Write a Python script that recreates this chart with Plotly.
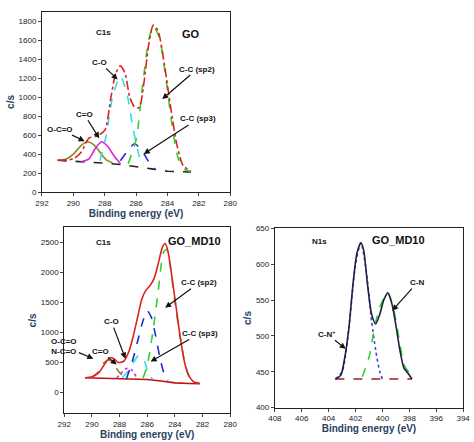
import plotly.graph_objects as go

W, H = 474, 442
# ---------- Panel 1: GO C1s ----------
go_bg_x = [291, 289, 288, 287, 286, 285, 284, 283, 282.5]
go_bg_y = [335, 320, 305, 290, 270, 245, 220, 212, 212]
go_ococ_x = [291, 290.5, 290, 289.5, 289.1, 288.7, 288.3, 287.9, 287.5]
go_ococ_y = [335, 345, 400, 490, 530, 500, 420, 340, 310]
go_co2_x = [289.5, 289, 288.6, 288.2, 287.8, 287.4, 287]
go_co2_y = [320, 350, 460, 530, 480, 380, 300]
go_co_x = [288.3, 287.9, 287.5, 287.0, 286.6, 286.2, 285.8, 285.5]
go_co_y = [330, 600, 1000, 1220, 1050, 680, 380, 280]
go_sp3_x = [287, 286.6, 286.1, 285.6, 285.2, 284.8]
go_sp3_y = [330, 420, 510, 430, 320, 240]
go_sp2_x = [286.5, 286, 285.6, 285.2, 284.9, 284.5, 284.1, 283.7, 283.3, 282.9, 282.5]
go_sp2_y = [300, 550, 1100, 1600, 1750, 1620, 1200, 700, 350, 240, 220]
go_env_x = [291, 290, 289.5, 289, 288.5, 288, 287.6, 287.3, 287, 286.7, 286.4, 286.1, 285.8,
            285.5, 285.2, 284.9, 284.6, 284.2, 283.8, 283.4, 283, 282.5]
go_env_y = [335, 350, 420, 570, 590, 650, 1000, 1250, 1330, 1250, 1000, 900, 890,
            1150, 1550, 1760, 1700, 1350, 900, 500, 280, 220]

# ---------- Panel 2: GO_MD10 C1s ----------
md_bg_x = [290.5, 288, 286, 285, 284, 283, 282.2]
md_bg_y = [245, 235, 215, 190, 160, 150, 145]
md_env_x = [290.5, 290, 289.5, 289, 288.7, 288.4, 288.1, 287.7, 287.3, 287, 286.7, 286.4, 286.1,
            285.8, 285.5, 285.2, 284.9, 284.7, 284.5, 284.2, 283.9, 283.6, 283.3, 283, 282.6, 282.2]
md_env_y = [245, 260, 330, 500, 580, 560, 500, 520, 700, 950, 1250, 1550, 1700,
            1780, 1900, 2150, 2420, 2480, 2350, 1900, 1400, 900, 500, 280, 170, 150]
md_sp2_x = [286.3, 286, 285.6, 285.2, 284.8, 284.6, 284.3, 284, 283.6, 283.2, 282.8, 282.2]
md_sp2_y = [240, 450, 1000, 1700, 2350, 2380, 2050, 1500, 900, 420, 200, 150]
md_sp3_x = [287.5, 287.1, 286.7, 286.3, 286.0, 285.7, 285.4, 285.1, 284.8, 284.5]
md_sp3_y = [230, 500, 850, 1200, 1360, 1250, 950, 600, 330, 200]
md_co_x = [287.8, 287.4, 287.0, 286.6, 286.2, 285.9, 285.6]
md_co_y = [250, 350, 500, 620, 520, 300, 220]
md_co2_x = [288.2, 287.9, 287.5, 287.1, 286.8]
md_co2_y = [240, 320, 400, 370, 260]
md_ococ_x = [290, 289.6, 289.2, 288.8, 288.4, 288, 287.6]
md_ococ_y = [250, 330, 480, 540, 460, 330, 250]

# ---------- Panel 3: GO_MD10 N1s ----------
n_bg_x = [403.5, 397.8]
n_bg_y = [440, 440]
n_env_x = [403.5, 403.1, 402.8, 402.5, 402.2, 401.9, 401.6, 401.4, 401.1, 400.8, 400.5, 400.2,
           399.9, 399.6, 399.3, 399, 398.7, 398.4, 398.1, 397.8]
n_env_y = [440, 445, 470, 510, 570, 615, 630, 620, 570, 530, 517, 530,
           550, 560, 545, 515, 480, 455, 448, 440]
n_cnp_x = [403.5, 403, 402.5, 402, 401.6, 401.2, 400.8, 400.5, 400.2, 400]
n_cnp_y = [440, 450, 510, 600, 630, 590, 520, 480, 450, 440]
n_cn_x = [401.5, 401, 400.6, 400.2, 399.6, 399.2, 398.8, 398.4, 398.0, 397.8]
n_cn_y = [443, 470, 510, 540, 560, 540, 500, 460, 448, 440]

fig = go.Figure()

def line(x, y, color, dash, ax, width=1.6, shape="spline"):
    fig.add_trace(go.Scatter(x=x, y=y, mode="lines", xaxis="x" + ax, yaxis="y" + ax,
                             line=dict(color=color, dash=dash, width=width, shape=shape,
                                       smoothing=0.7 if shape == "spline" else None),
                             showlegend=False, hoverinfo="skip"))

# panel 1
line(go_bg_x, go_bg_y, "#222", "dash", "", shape="linear")
line(go_ococ_x, go_ococ_y, "#8a8a20", "solid", "")
line(go_co2_x, go_co2_y, "#e020e0", "solid", "")
line(go_co_x, go_co_y, "#30e0e0", "dash", "")
line(go_sp3_x, go_sp3_y, "#2030d0", "dash", "")
line(go_sp2_x, go_sp2_y, "#30d030", "dash", "")
line(go_env_x, go_env_y, "#e02020", "dashdot", "")
# panel 2
line(md_bg_x, md_bg_y, "#c01010", "solid", "2", shape="linear")
line(md_ococ_x, md_ococ_y, "#8a8a20", "dash", "2")
line(md_co2_x, md_co2_y, "#e020e0", "dot", "2")
line(md_co_x, md_co_y, "#30e0e0", "dash", "2")
line(md_sp3_x, md_sp3_y, "#2030d0", "dash", "2")
line(md_sp2_x, md_sp2_y, "#30d030", "dash", "2")
line(md_env_x, md_env_y, "#e02020", "solid", "2")
# panel 3
line(n_bg_x, n_bg_y, "#a02020", "dash", "3", shape="linear")
line(n_cnp_x, n_cnp_y, "#4040e0", "dot", "3")
line(n_cn_x, n_cn_y, "#30d030", "dash", "3")
line(n_env_x, n_env_y, "#202040", "solid", "3")

def px(x): return x / W
def py(y): return 1 - y / H

FONT = "Liberation Sans, Arial"
tf = dict(family=FONT, size=8, color="#222")
def xax(dom, rng, anchor):
    return dict(domain=dom, range=rng, anchor=anchor, dtick=2, showline=True, mirror=True,
                linecolor="#222", linewidth=1, ticks="outside", ticklen=3, showgrid=False,
                zeroline=False, tickfont=tf,
                title=dict(text="<b>Binding energy (eV)</b>", font=dict(family=FONT, size=10), standoff=2))
def yax(dom, rng, anchor, dtick):
    return dict(domain=dom, range=rng, anchor=anchor, dtick=dtick, showline=True, mirror=True,
                linecolor="#222", linewidth=1, ticks="outside", ticklen=3, showgrid=False,
                zeroline=False, tickfont=tf,
                title=dict(text="<b>c/s</b>", font=dict(family=FONT, size=10), standoff=2))

fig.update_layout(
    width=W, height=H, margin=dict(l=0, r=0, t=0, b=0),
    paper_bgcolor="white", plot_bgcolor="white",
    xaxis=xax([px(36), px(230)], [292, 280], "y"),
    yaxis=yax([py(192), py(8)], [0, 1900], "x", 200),
    xaxis2=xax([px(59), px(230)], [292, 280], "y2"),
    yaxis2=yax([py(418), py(228)], [-350, 2750], "x2", 500),
    xaxis3=xax([px(276), px(470)], [408, 394], "y3"),
    yaxis3=yax([py(412), py(229)], [400, 650], "x3", 50),
)

af = dict(family=FONT, size=8, color="#111")
def lab(text, x, y, size=8):
    fig.add_annotation(x=px(x), y=py(y), xref="paper", yref="paper", text=text, showarrow=False,
                       font=dict(family=FONT, size=size, color="#111"))
def arr(text, hx, hy, ax, ay):
    fig.add_annotation(x=px(hx), y=py(hy), xref="paper", yref="paper", text=text, showarrow=True,
                       ax=ax, ay=ay, arrowhead=2, arrowsize=1, arrowwidth=1.2, arrowcolor="#111",
                       font=af)

lab("<b>C1s</b>", 90, 22); lab("<b>GO</b>", 190, 22, 11)
arr("<b>C-O</b>", 114, 77, -18, -17)
arr("<b>C=O</b>", 95, 137, -15, -24)
arr("<b>O-C=O</b>", 80, 140, -25, -12)
arr("<b>C-C (sp2)</b>", 160, 97, 35, -30)
arr("<b>C-C (sp3)</b>", 141, 153, 54, -35)

lab("<b>C1s</b>", 90, 243); lab("<b>GO_MD10</b>", 193, 242, 11)
arr("<b>C-O</b>", 122, 362, -14, -37)
arr("<b>C=O</b>", 113, 368, -16, -13)
arr("<b>O-C=O<br>N-C=O</b>", 89, 362, -29, -12)
arr("<b>C-C (sp2)</b>", 163, 310, 34, -25)
arr("<b>C-C (sp3)</b>", 148, 365, 49, -28)

lab("<b>N1s</b>", 332, 242); lab("<b>GO_MD10</b>", 433, 241, 11)
arr("<b>C-N</b>", 397, 313, 25, -28)
arr("<b>C-N<sup>+</sup></b>", 349, 352, -19, -15)

fig.write_html("out.html", config={"displayModeBar": False},
               post_script="document.body.style.margin='0';document.body.style.overflow='hidden';")
